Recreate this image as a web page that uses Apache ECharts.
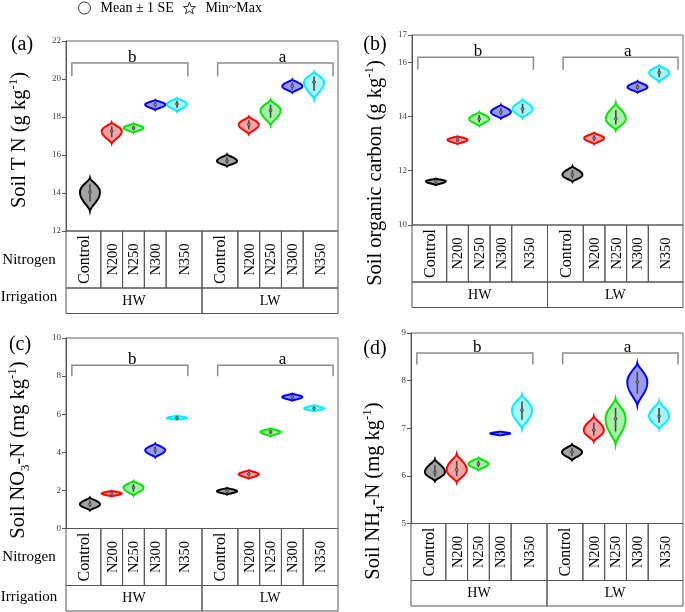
<!DOCTYPE html>
<html>
<head>
<meta charset="utf-8">
<script src="https://cdn.jsdelivr.net/npm/echarts@6/dist/echarts.min.js"></script>
<style>html,body{margin:0;padding:0;background:#fff}#c{width:685px;height:612px}</style>
</head>
<body>
<div id="c"></div>
<script>
// ---------- data ----------
const categories = ['Control', 'N200', 'N250', 'N300', 'N350'];
const irrigation = ['HW', 'LW'];
const groupLetters = ['b', 'a'];
const posHW = [1.1, 2.1, 3.1, 4.1, 5.1];
const posLW = [7.4, 8.4, 9.4, 10.4, 11.4];

// Soil TN (g/kg): HW Control..N350, LW Control..N350
const tnMin = [13.05, 16.6, 17.18, 18.37, 18.28, 15.4, 17.1, 17.56, 19.28, 18.92];
const tnMid = [14.05, 17.26, 17.42, 18.65, 18.68, 15.68, 17.6, 18.35, 19.62, 19.84];
const tnMax = [14.8, 17.72, 17.66, 18.9, 19.0, 16.04, 18.02, 18.9, 19.98, 20.38];

// Soil organic carbon (g/kg)
const socMin = [11.47, 12.98, 13.65, 13.92, 13.93, 11.59, 12.98, 13.49, 14.88, 15.27];
const socMid = [11.61, 13.14, 13.91, 14.16, 14.28, 11.85, 13.2, 13.91, 15.08, 15.62];
const socMax = [11.71, 13.27, 14.16, 14.43, 14.62, 12.17, 13.4, 14.5, 15.3, 15.88];

// Soil NO3-N (mg/kg)
const no3Min = [0.95, 1.68, 1.72, 3.73, 5.7, 1.78, 2.62, 4.84, 6.71, 6.15];
const no3Mid = [1.27, 1.84, 2.15, 4.11, 5.8, 1.96, 2.85, 5.07, 6.9, 6.3];
const no3Max = [1.63, 1.98, 2.5, 4.46, 5.92, 2.13, 3.06, 5.25, 7.08, 6.47];

// Soil NH4-N (mg/kg)
const nh4Min = [5.89, 5.86, 6.12, 6.85, 6.98, 6.33, 6.72, 6.66, 7.48, 6.98];
const nh4Mid = [6.08, 6.13, 6.25, 6.89, 7.38, 6.5, 6.96, 7.2, 7.97, 7.25];
const nh4Max = [6.35, 6.46, 6.38, 6.93, 7.71, 6.66, 7.25, 7.62, 8.37, 7.57];

// ---------- style ----------
const FONT = '"Liberation Serif", "Times New Roman", serif';
const strokes = ['#000000', '#ff0000', '#00e600', '#0000ff', '#00f0ff'];
const fills = ['#a3a3a3', '#f5a3a3', '#a8f0a8', '#9a9cf0', '#a8f4f6'];
const X_MIN = 0, X_MAX = 12.5, HALF_W = 0.46;
const ROW1_H = 57, ROW2_H = 25.5;
const bracketStart = [0.27, 6.97], bracketEnd = [5.6, 12.27], letterX = [3.05, 9.95];

const panels = [
  {left: 66, top: 41, width: 272, height: 190, min: 12, max: 22, interval: 2,
   lo: tnMin, mid: tnMid, hi: tnMax, bTop: 20.84, bBot: 20.14},
  {left: 412, top: 35, width: 271, height: 190, min: 10, max: 17, interval: 2,
   lo: socMin, mid: socMid, hi: socMax, bTop: 16.18, bBot: 15.72},
  {left: 66, top: 338, width: 272, height: 190.5, min: 0, max: 10, interval: 2,
   lo: no3Min, mid: no3Mid, hi: no3Max, bTop: 8.57, bBot: 7.99},
  {left: 411, top: 333, width: 272, height: 190.5, min: 5, max: 9, interval: 1,
   lo: nh4Min, mid: nh4Mid, hi: nh4Max, bTop: 8.58, bBot: 8.34}
];

const positions = posHW.concat(posLW);
const splitX = (posHW[posHW.length - 1] + posLW[0]) / 2;

function cellBounds(pos, start, end) {
  return pos.map((p, i) => [
    i === 0 ? start : (pos[i - 1] + p) / 2,
    i === pos.length - 1 ? end : (p + pos[i + 1]) / 2
  ]);
}
const nCells = cellBounds(posHW, X_MIN, splitX).concat(cellBounds(posLW, splitX, X_MAX));
const tableData = nCells.map((b, i) => [b[0], b[1], 0, i % 5])
  .concat([[X_MIN, splitX, 1, 0], [splitX, X_MAX, 1, 1]]);

function violinRender(params, api) {
  const x = api.value(0), lo = api.value(1), mid = api.value(2), hi = api.value(3), ci = api.value(4);
  const hw = api.size([HALF_W, 0])[0];
  const N = 30;
  const prof = u => Math.pow(1 - u * u, 1.6);
  const right = [];
  for (let i = 0; i <= N; i++) {
    const t = i / N, y = hi - (hi - mid) * t, u = 1 - t;
    const p = api.coord([x, y]);
    right.push([p[0] + hw * prof(u), p[1]]);
  }
  for (let i = 1; i <= N; i++) {
    const u = i / N, y = mid - (mid - lo) * u;
    const p = api.coord([x, y]);
    right.push([p[0] + hw * prof(u), p[1]]);
  }
  const cx = api.coord([x, mid])[0];
  const left = right.slice().reverse().map(p => [2 * cx - p[0], p[1]]);
  const a = api.coord([x, mid + (hi - mid) * 0.55]);
  const b = api.coord([x, mid - (mid - lo) * 0.5]);
  const m = api.coord([x, mid]);
  return {
    type: 'group',
    children: [
      {type: 'polygon', shape: {points: right.concat(left)},
       style: {fill: fills[ci], stroke: strokes[ci], lineWidth: 2}},
      {type: 'line', shape: {x1: a[0], y1: a[1], x2: b[0], y2: b[1]},
       style: {stroke: '#4a4a4a', lineWidth: 1.6}},
      {type: 'circle', shape: {cx: m[0], cy: m[1], r: 1.4},
       style: {fill: '#999', stroke: '#333', lineWidth: 0.8}}
    ]
  };
}

function bracketRender(panel) {
  return function (params, api) {
    const x0 = api.value(0), x1 = api.value(1), li = api.value(2), lx = api.value(3);
    const p0 = api.coord([x0, panel.bBot]), p1 = api.coord([x0, panel.bTop]);
    const p2 = api.coord([x1, panel.bTop]), p3 = api.coord([x1, panel.bBot]);
    const t = api.coord([lx, panel.bTop]);
    return {
      type: 'group',
      children: [
        {type: 'polyline', shape: {points: [p0, p1, p2, p3]},
         style: {stroke: '#8c8c8c', lineWidth: 1.5, fill: 'none'}},
        {type: 'text', x: t[0], y: t[1] + 3,
         style: {text: groupLetters[li], fontSize: 17, fontFamily: FONT, fill: '#000',
                 align: 'center', verticalAlign: 'bottom'}}
      ]
    };
  };
}

function tableRender(panel) {
  return function (params, api) {
    const x0 = api.value(0), x1 = api.value(1), row = api.value(2), li = api.value(3);
    const a = api.coord([x0, panel.min]), b = api.coord([x1, panel.min]);
    const y0 = a[1] + (row === 0 ? 0 : ROW1_H);
    const h = row === 0 ? ROW1_H : ROW2_H;
    const label = row === 0 ? categories[li] : irrigation[li];
    const fs = row === 0 ? (li === 0 ? 16 : 14.5) : 14;
    return {
      type: 'group',
      children: [
        {type: 'rect', shape: {x: a[0], y: y0, width: b[0] - a[0], height: h},
         style: {fill: 'none', stroke: '#555', lineWidth: 1}},
        {type: 'text', x: (a[0] + b[0]) / 2 + (row === 0 ? 1 : 0), y: y0 + h / 2 + (row === 0 ? 0 : 0.5),
         rotation: row === 0 ? Math.PI / 2 : 0,
         style: {text: label, fontSize: fs, fontFamily: FONT, fill: '#000',
                 align: 'center', verticalAlign: 'middle'}}
      ]
    };
  };
}

const series = [];
panels.forEach((p, gi) => {
  series.push({
    type: 'custom', xAxisIndex: gi, yAxisIndex: gi, clip: false, silent: true,
    renderItem: violinRender,
    data: positions.map((x, i) => [x, p.lo[i], p.mid[i], p.hi[i], i % 5])
  });
  series.push({
    type: 'custom', xAxisIndex: gi, yAxisIndex: gi, clip: false, silent: true,
    renderItem: bracketRender(p),
    data: bracketStart.map((s, i) => [s, bracketEnd[i], i, letterX[i]])
  });
  series.push({
    type: 'custom', xAxisIndex: gi, yAxisIndex: gi, clip: false, silent: true,
    renderItem: tableRender(p),
    data: tableData
  });
});
series.push({type: 'scatter', name: 'Mean ± 1 SE', data: [], xAxisIndex: 0, yAxisIndex: 0});
series.push({type: 'scatter', name: 'Min~Max', data: [], xAxisIndex: 0, yAxisIndex: 0});

const STAR = 'path://M12,1 L14.8,8.6 L23,8.8 L16.6,13.9 L18.9,21.8 L12,17.2 L5.1,21.8 L7.4,13.9 L1,8.8 L9.2,8.6 Z';

function yTitle(x, y, parts) {
  const rich = {
    n: {fontSize: 20.5, fontFamily: FONT, fill: '#000', lineHeight: 26},
    sup: {fontSize: 13, fontFamily: FONT, fill: '#000', lineHeight: 14, verticalAlign: 'top'},
    sub: {fontSize: 13, fontFamily: FONT, fill: '#000', lineHeight: 14, verticalAlign: 'bottom'}
  };
  return {type: 'text', x: x, y: y, rotation: Math.PI / 2,
          style: {text: parts, rich: rich, align: 'center', verticalAlign: 'middle'}};
}
function plain(x, y, text, size) {
  return {type: 'text', x: x, y: y,
          style: {text: text, fontSize: size, fontFamily: FONT, fill: '#000',
                  align: 'center', verticalAlign: 'middle'}};
}

const option = {
  animation: false,
  backgroundColor: '#fff',
  legend: {
    left: 78, top: 1, padding: 0, itemWidth: 12, itemHeight: 12, itemGap: 9,
    selectedMode: false,
    textStyle: {fontFamily: FONT, fontSize: 14, color: '#000', padding: [0, 0, 0, 5]},
    data: [
      {name: 'Mean ± 1 SE', icon: 'circle', itemStyle: {color: '#fff', borderColor: '#000', borderWidth: 1}},
      {name: 'Min~Max', icon: STAR, itemStyle: {color: '#fff', borderColor: '#000', borderWidth: 1}}
    ]
  },
  grid: panels.map(p => ({left: p.left, top: p.top, width: p.width, height: p.height,
                          show: true, borderColor: '#666', borderWidth: 1, backgroundColor: 'transparent'})),
  xAxis: panels.map((p, i) => ({type: 'value', gridIndex: i, min: X_MIN, max: X_MAX, show: false})),
  yAxis: panels.map((p, i) => ({
    type: 'value', gridIndex: i, min: p.min, max: p.max, interval: p.interval,
    axisLine: {show: true, lineStyle: {color: '#555', width: 1}},
    axisTick: {show: true, length: 4, inside: false, lineStyle: {color: '#555'}},
    axisLabel: {fontSize: 9, color: '#444', fontFamily: FONT, margin: 5},
    splitLine: {show: false}
  })),
  graphic: [
    plain(22, 45, '(a)', 20), plain(375, 45, '(b)', 20),
    plain(20, 345, '(c)', 20), plain(375, 349, '(d)', 20),
    yTitle(20, 140, '{n|Soil T N (g kg}{sup|-1}{n|)}'),
    yTitle(376, 173, '{n|Soil organic carbon (g kg}{sup|-1}{n|)}'),
    yTitle(19, 450, '{n|Soil NO}{sub|3}{n|-N (mg kg}{sup|-1}{n|)}'),
    yTitle(374, 491, '{n|Soil NH}{sub|4}{n|-N (mg kg}{sup|-1}{n|)}'),
    plain(29, 260, 'Nitrogen', 15), plain(29, 297, 'Irrigation', 15),
    plain(29, 557, 'Nitrogen', 15), plain(29, 597, 'Irrigation', 15)
  ],
  series: series
};

const chart = echarts.init(document.getElementById('c'), null, {renderer: 'canvas'});
chart.setOption(option);
</script>
</body>
</html>
